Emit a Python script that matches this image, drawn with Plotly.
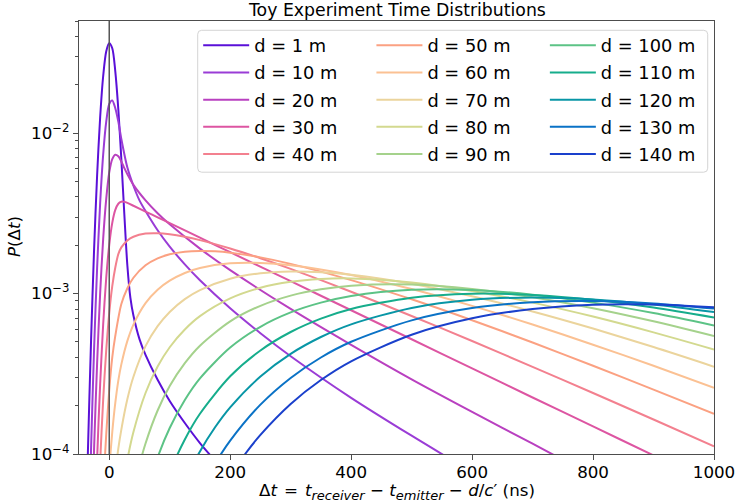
import plotly.graph_objects as go

# Source-receiver distances and their line colours
distances_m = [1, 10, 20, 30, 40, 50, 60, 70, 80, 90, 100, 110, 120, 130, 140]
line_colors = ["#5a10d8", "#9a3cd6", "#b940c0", "#dd55a2", "#f3808f",
               "#fba182", "#fbc193", "#ebd49c", "#d3d98f", "#a5d28c",
               "#5cc386", "#16ad8c", "#0896a6", "#0a72c6", "#1a40cc"]

# Time residual (ns) and probability density for each distance
t_d1 = [-40, -35, -30, -25, -20, -15, -10, -5, 0, 5, 10, 15, 20, 25, 30, 35, 40,
        50, 60, 80, 100, 125, 150, 175, 200]
p_d1 = [1.9e-5, 1.13e-4, 5.2e-4, 1.91e-3, 5.5e-3, 1.26e-2, 2.27e-2, 3.23e-2, 3.63e-2,
        3.38e-2, 2.43e-2, 1.41e-2, 6.9e-3, 3.1e-3, 1.49e-3, 9.4e-4, 7.3e-4,
        5.2e-4, 4.15e-4, 2.9e-4, 2.14e-4, 1.56e-4, 1.17e-4, 9.1e-5, 7.2e-5]

t_d10 = [-35, -30, -25, -20, -15, -10, -5, 0, 5, 10, 15, 20, 30, 40, 50, 60, 80,
         100, 125, 150, 200, 250, 300, 400, 500, 600]
p_d10 = [2.0e-5, 1.1e-4, 4.6e-4, 1.46e-3, 3.68e-3, 7.37e-3, 1.176e-2, 1.52e-2, 1.60e-2,
         1.43e-2, 1.18e-2, 9.2e-3, 6.1e-3, 4.7e-3, 3.81e-3, 3.27e-3, 2.48e-3,
         1.96e-3, 1.52e-3, 1.21e-3, 8.1e-4, 5.66e-4, 4.07e-4, 2.24e-4, 1.30e-4, 7.7e-5]

t_d20 = [-30, -25, -20, -15, -10, -5, 0, 5, 10, 15, 20, 25, 30, 40, 60, 80, 100,
         150, 200, 300, 400, 500, 600, 700, 800]
p_d20 = [2.5e-5, 1.1e-4, 3.72e-4, 1.01e-3, 2.2e-3, 3.88e-3, 5.69e-3, 6.89e-3, 7.34e-3,
         7.17e-3, 6.65e-3, 6.05e-3, 5.55e-3, 4.76e-3, 3.81e-3, 3.17e-3, 2.70e-3,
         1.905e-3, 1.40e-3, 8.02e-4, 4.79e-4, 2.92e-4, 1.83e-4, 1.16e-4, 7.3e-5]

t_d30 = [-25, -20, -15, -10, -5, 0, 5, 10, 15, 20, 25, 30, 40, 60, 80, 100, 150,
         200, 300, 400, 500, 600, 700, 800, 900, 950]
p_d30 = [2.56e-5, 9.4e-5, 2.74e-4, 6.46e-4, 1.251e-3, 2.014e-3, 2.761e-3, 3.322e-3,
         3.631e-3, 3.738e-3, 3.728e-3, 3.672e-3, 3.527e-3, 3.245e-3, 2.986e-3,
         2.747e-3, 2.231e-3, 1.811e-3, 1.194e-3, 7.87e-4, 5.19e-4, 3.42e-4,
         2.25e-4, 1.486e-4, 9.8e-5, 7.96e-5]

t_d40 = [-20, -15, -10, -5, 0, 5, 10, 15, 20, 30, 40, 60, 80, 100, 125, 150, 200,
         250, 300, 400, 500, 600, 700, 800, 900, 1000]
p_d40 = [3.0e-5, 8.95e-5, 2.19e-4, 4.42e-4, 7.56e-4, 1.111e-3, 1.453e-3, 1.76e-3,
         1.94e-3, 2.145e-3, 2.26e-3, 2.365e-3, 2.377e-3, 2.342e-3, 2.26e-3, 2.154e-3,
         1.91e-3, 1.661e-3, 1.426e-3, 1.027e-3, 7.25e-4, 5.06e-4, 3.49e-4, 2.40e-4,
         1.641e-4, 1.117e-4]

t_d50 = [-20, -15, -10, -5, 0, 5, 10, 20, 30, 40, 60, 80, 100, 125, 150, 175, 200,
         250, 300, 400, 500, 600, 700, 800, 900, 1000]
p_d50 = [7e-6, 2.3e-5, 6.0e-5, 1.32e-4, 2.51e-4, 4.0e-4, 5.45e-4, 8.6e-4, 1.08e-3,
         1.255e-3, 1.50e-3, 1.658e-3, 1.757e-3, 1.824e-3, 1.845e-3, 1.833e-3,
         1.798e-3, 1.681e-3, 1.532e-3, 1.213e-3, 9.21e-4, 6.82e-4, 4.95e-4, 3.55e-4,
         2.52e-4, 1.779e-4]

t_d60 = [-15, -10, -5, 0, 5, 10, 15, 20, 30, 40, 60, 80, 100, 125, 150, 200, 250,
         300, 400, 500, 600, 700, 800, 900, 1000]
p_d60 = [5.9e-6, 1.67e-5, 3.95e-5, 8.0e-5, 1.37e-4, 2.08e-4, 2.87e-4, 3.62e-4,
         5.07e-4, 6.41e-4, 8.71e-4, 1.056e-3, 1.203e-3, 1.344e-3, 1.443e-3,
         1.544e-3, 1.553e-3, 1.503e-3, 1.307e-3, 1.067e-3, 8.38e-4, 6.41e-4,
         4.80e-4, 3.55e-4, 2.59e-4]

t_d70 = [-10, 0, 5, 10, 15, 20, 30, 40, 60, 80, 100, 125, 150, 200, 250, 300, 350,
         400, 500, 600, 700, 800, 900, 1000]
p_d70 = [5e-6, 2.6e-5, 4.7e-5, 7.5e-5, 1.08e-4, 1.42e-4, 2.2e-4, 3.03e-4, 4.70e-4,
         6.26e-4, 7.68e-4, 9.23e-4, 1.051e-3, 1.237e-3, 1.338e-3, 1.374e-3,
         1.360e-3, 1.312e-3, 1.153e-3, 9.61e-4, 7.73e-4, 6.05e-4, 4.64e-4, 3.50e-4]

t_d80 = [10, 20, 30, 40, 60, 80, 100, 125, 150, 200, 250, 300, 350, 400, 500, 600,
         700, 800, 900, 1000]
p_d80 = [2.5e-5, 5.3e-5, 9.2e-5, 1.37e-4, 2.40e-4, 3.51e-4, 4.63e-4, 5.97e-4,
         7.23e-4, 9.33e-4, 1.087e-3, 1.184e-3, 1.233e-3, 1.243e-3, 1.174e-3,
         1.039e-3, 8.78e-4, 7.19e-4, 5.73e-4, 4.48e-4]

t_d90 = [30, 40, 50, 60, 80, 100, 125, 150, 200, 250, 300, 350, 400, 500, 600, 700,
         800, 900, 1000]
p_d90 = [3.6e-5, 5.8e-5, 8.55e-5, 1.163e-4, 1.867e-4, 2.65e-4, 3.68e-4, 4.73e-4,
         6.71e-4, 8.39e-4, 9.71e-4, 1.063e-3, 1.119e-3, 1.138e-3, 1.069e-3, 9.50e-4,
         8.11e-4, 6.72e-4, 5.44e-4]

t_d100 = [40, 60, 80, 100, 125, 150, 200, 250, 300, 350, 400, 500, 600, 700, 800,
          900, 1000]
p_d100 = [2.3e-5, 5.39e-5, 9.52e-5, 1.453e-4, 2.17e-4, 2.96e-4, 4.61e-4, 6.21e-4,
          7.63e-4, 8.78e-4, 9.66e-4, 1.056e-3, 1.053e-3, 9.84e-4, 8.78e-4, 7.56e-4,
          6.33e-4]

t_d110 = [75, 100, 125, 150, 200, 250, 300, 350, 400, 500, 600, 700, 800, 900, 1000]
p_d110 = [4.03e-5, 7.66e-5, 1.232e-4, 1.782e-4, 3.05e-4, 4.42e-4, 5.76e-4, 6.98e-4,
          8.02e-4, 9.43e-4, 9.98e-4, 9.81e-4, 9.15e-4, 8.18e-4, 7.09e-4]

t_d120 = [100, 125, 150, 175, 200, 250, 300, 350, 400, 500, 600, 700, 800, 900, 1000]
p_d120 = [3.91e-5, 6.76e-5, 1.038e-4, 1.467e-4, 1.953e-4, 3.04e-4, 4.21e-4, 5.36e-4,
          6.43e-4, 8.14e-4, 9.14e-4, 9.45e-4, 9.20e-4, 8.56e-4, 7.68e-4]

t_d130 = [125, 150, 175, 200, 250, 300, 350, 400, 500, 600, 700, 800, 900, 1000]
p_d130 = [3.6e-5, 5.86e-5, 8.71e-5, 1.211e-4, 2.03e-4, 2.98e-4, 3.995e-4, 5.005e-4,
          6.81e-4, 8.12e-4, 8.83e-4, 8.98e-4, 8.68e-4, 8.06e-4]

t_d140 = [175, 200, 225, 250, 300, 350, 400, 500, 600, 700, 800, 900, 1000]
p_d140 = [5.03e-5, 7.30e-5, 1.003e-4, 1.316e-4, 2.051e-4, 2.891e-4, 3.784e-4,
          5.54e-4, 7.01e-4, 8.01e-4, 8.52e-4, 8.55e-4, 8.22e-4]

x_ticks = [0, 200, 400, 600, 800, 1000]
y_ticks = [1e-4, 1e-3, 1e-2]
y_tick_text = ["10<sup>\u22124</sup>", "10<sup>\u22123</sup>", "10<sup>\u22122</sup>"]
y_minor = [m * 10.0 ** e for e in (-4, -3, -2) for m in range(2, 10) if m * 10.0 ** e <= 0.05]

times = [t_d1, t_d10, t_d20, t_d30, t_d40, t_d50, t_d60, t_d70,
         t_d80, t_d90, t_d100, t_d110, t_d120, t_d130, t_d140]
probs = [p_d1, p_d10, p_d20, p_d30, p_d40, p_d50, p_d60, p_d70,
         p_d80, p_d90, p_d100, p_d110, p_d120, p_d130, p_d140]

FONT = "DejaVu Sans"
FS = 16.7
LEG_FS = 17.8
W, H = 736, 501
L, R, T, B = 78.7, 21.7, 20.7, 47.0
PW, PH = W - L - R, H - T - B


def px_x(px):
    return (px - L) / PW


def px_y(py):
    return (H - B - py) / PH


legend_names = ["legend", "legend2", "legend3"]

fig = go.Figure()
for i, (d, t, p, c) in enumerate(zip(distances_m, times, probs, line_colors)):
    fig.add_trace(go.Scatter(
        x=t, y=p, mode="lines", name=f"d = {d} m",
        line=dict(color=c, width=2, shape="spline", smoothing=0.8),
        legend=legend_names[i // 5], legendgroup=str(d),
        hoverinfo="skip",
    ))

axis_color = "#4d4d4d"
fig.update_xaxes(
    range=[-50, 1000], showgrid=False, zeroline=False,
    showline=True, linecolor=axis_color, linewidth=1.3, mirror=True,
    ticks="outside", ticklen=5, tickwidth=1.1, tickcolor=axis_color,
    tickmode="array", tickvals=x_ticks, ticktext=[str(v) for v in x_ticks],
    tickfont=dict(family=FONT, size=FS, color="black"), ticklabelstandoff=-2,
)
fig.update_yaxes(
    type="log", range=[-4, -1.30103], showgrid=False, zeroline=False,
    showline=True, linecolor=axis_color, linewidth=1.3, mirror=True,
    ticks="outside", ticklen=5, tickwidth=1.1, tickcolor=axis_color,
    tickmode="array", tickvals=y_ticks, ticktext=y_tick_text,
    tickfont=dict(family=FONT, size=FS, color="black"),
    minor=dict(tickmode="array", tickvals=y_minor, ticks="outside",
               ticklen=3, tickwidth=0.8, tickcolor=axis_color),
)

# reference line at zero time residual
fig.add_shape(type="line", xref="x", yref="paper", x0=0, x1=0, y0=0, y1=1,
              line=dict(color="#555555", width=1.5), layer="above")

# rounded legend frame
bx0, bx1 = px_x(197.5), px_x(708)
by0, by1 = px_y(172), px_y(30)
rx, ry = 4 / PW, 4 / PH
frame = (f"M {bx0 + rx},{by1} L {bx1 - rx},{by1} Q {bx1},{by1} {bx1},{by1 - ry} "
         f"L {bx1},{by0 + ry} Q {bx1},{by0} {bx1 - rx},{by0} "
         f"L {bx0 + rx},{by0} Q {bx0},{by0} {bx0},{by0 + ry} "
         f"L {bx0},{by1 - ry} Q {bx0},{by1} {bx0 + rx},{by1} Z")
fig.add_shape(type="path", xref="paper", yref="paper", path=frame,
              fillcolor="rgba(255,255,255,0.8)", line=dict(color="#d4d4d4", width=1),
              layer="above")

legend_common = dict(
    xanchor="left", yanchor="top", bgcolor="rgba(0,0,0,0)", borderwidth=0,
    font=dict(family=FONT, size=LEG_FS, color="black"), tracegroupgap=1.0,
    itemwidth=46, orientation="v",
)
HS = "\u200a"
SUB = '<sub><span style="font-size:13px"><i>{}</i></span></sub>'
xlabel = (f"\u0394<i>t</i> {HS}={HS} <i>t</i>{SUB.format('receiver')} \u2212 "
          f"<i>t</i>{SUB.format('emitter')} \u2212 <i>d</i>/<i>c</i>\u2032 (ns)")
fig.update_layout(
    width=W, height=H,
    margin=dict(l=L, r=R, t=T, b=B, pad=0, autoexpand=False),
    paper_bgcolor="white", plot_bgcolor="white",
    font=dict(family=FONT, size=FS, color="black"),
    showlegend=True,
    legend=dict(x=px_x(198.0), y=px_y(27.0), **legend_common),
    legend2=dict(x=px_x(371.4), y=px_y(27.0), **legend_common),
    legend3=dict(x=px_x(545.0), y=px_y(27.0), **legend_common),
    annotations=[
        dict(text="Toy Experiment Time Distributions", xref="paper", yref="paper",
             x=0.5, y=px_y(9.5), xanchor="center", yanchor="middle", showarrow=False,
             font=dict(family=FONT, size=17.3, color="black")),
        dict(text=xlabel, xref="paper", yref="paper", x=0.5, y=px_y(491.5),
             xanchor="center", yanchor="middle", showarrow=False,
             font=dict(family=FONT, size=FS, color="black")),
        dict(text="<i>P</i>(\u0394<i>t</i>)", xref="paper", yref="paper",
             x=px_x(13.5), y=px_y(236), xanchor="center", yanchor="middle",
             textangle=-90, showarrow=False,
             font=dict(family=FONT, size=FS, color="black")),
    ],
)

fig.write_html("out.html")
